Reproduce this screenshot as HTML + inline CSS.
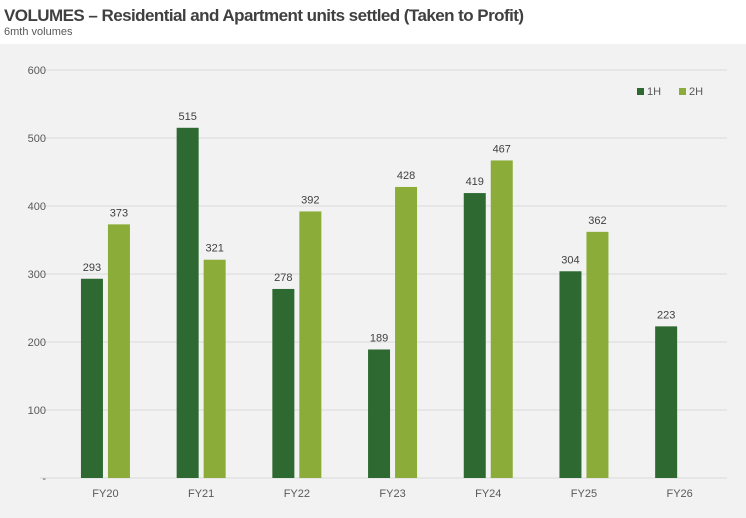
<!DOCTYPE html>
<html><head><meta charset="utf-8"><style>
body{margin:0;width:746px;height:518px;overflow:hidden;background:#fff;font-family:"Liberation Sans",sans-serif}
#title{position:absolute;left:4px;top:6px;font-size:17px;font-weight:bold;color:#404040;letter-spacing:-0.55px}
#sub{position:absolute;left:4px;top:26px;font-size:11px;color:#595959}
svg{position:absolute;left:0;top:0}
</style></head><body>
<div id="title">VOLUMES – Residential and Apartment units settled (Taken to Profit)</div>
<div id="sub">6mth volumes</div>
<svg id="c" width="746" height="518"></svg>
<script>
const categories=["FY20","FY21","FY22","FY23","FY24","FY25","FY26"];
const h1=[293,515,278,189,419,304,223];
const h2=[373,321,392,428,467,362,null];
const ticks=[0,100,200,300,400,500,600];
const tickLabels=["-","100","200","300","400","500","600"];
const NS="http://www.w3.org/2000/svg";
const svg=document.getElementById('c');
const y0=478,y1=70,ymax=600;
const y=v=>y0-(v/ymax)*(y0-y1);
const plotL=57.6,bandW=95.7;
const xc=i=>plotL+bandW*(i+0.5);
function el(t,a){const e=document.createElementNS(NS,t);for(const k in a)e.setAttribute(k,a[k]);svg.appendChild(e);return e;}
const bg=el('rect',{x:0,y:44,width:746,height:474,fill:'#f2f2f2'});


ticks.forEach((t,i)=>{
  const g=el('line',{x1:40,x2:727,y1:y(t),y2:y(t),stroke:'#d9d9d9','stroke-width':1});
  
  
  const l=el('text',{x:46,y:y(t)+4,'text-anchor':'end','font-size':11,fill:'#595959'});
  l.textContent=tickLabels[i];
  
  
});
const bw=22,gap=5;
categories.forEach((c,i)=>{
  const cx=xc(i);
  [[h1[i],cx-gap/2-bw,'#2d6930','bar-1h'],[h2[i],cx+gap/2,'#8bac38','bar-2h']].forEach(([v,x,col,nm])=>{
    if(v==null)return;
    const r=el('rect',{x:x,y:y(v),width:bw,height:y0-y(v),fill:col});
    
    
    const t=el('text',{x:x+bw/2,y:y(v)-8,'text-anchor':'middle','font-size':11,fill:'#404040'});
    t.textContent=v;
    
    
  });
  const xl=el('text',{x:cx,y:497,'text-anchor':'middle','font-size':11,fill:'#595959'});
  xl.textContent=c;
  
  
});
[['#2d6930','1H',637],['#8bac38','2H',679]].forEach(([col,lab,x])=>{
  const s=el('rect',{x:x,y:88,width:7,height:7,fill:col});
  
  
  const t=el('text',{x:x+10,y:95,'font-size':11,fill:'#595959'});
  t.textContent=lab;
  
  
});
</script>
</body></html>
